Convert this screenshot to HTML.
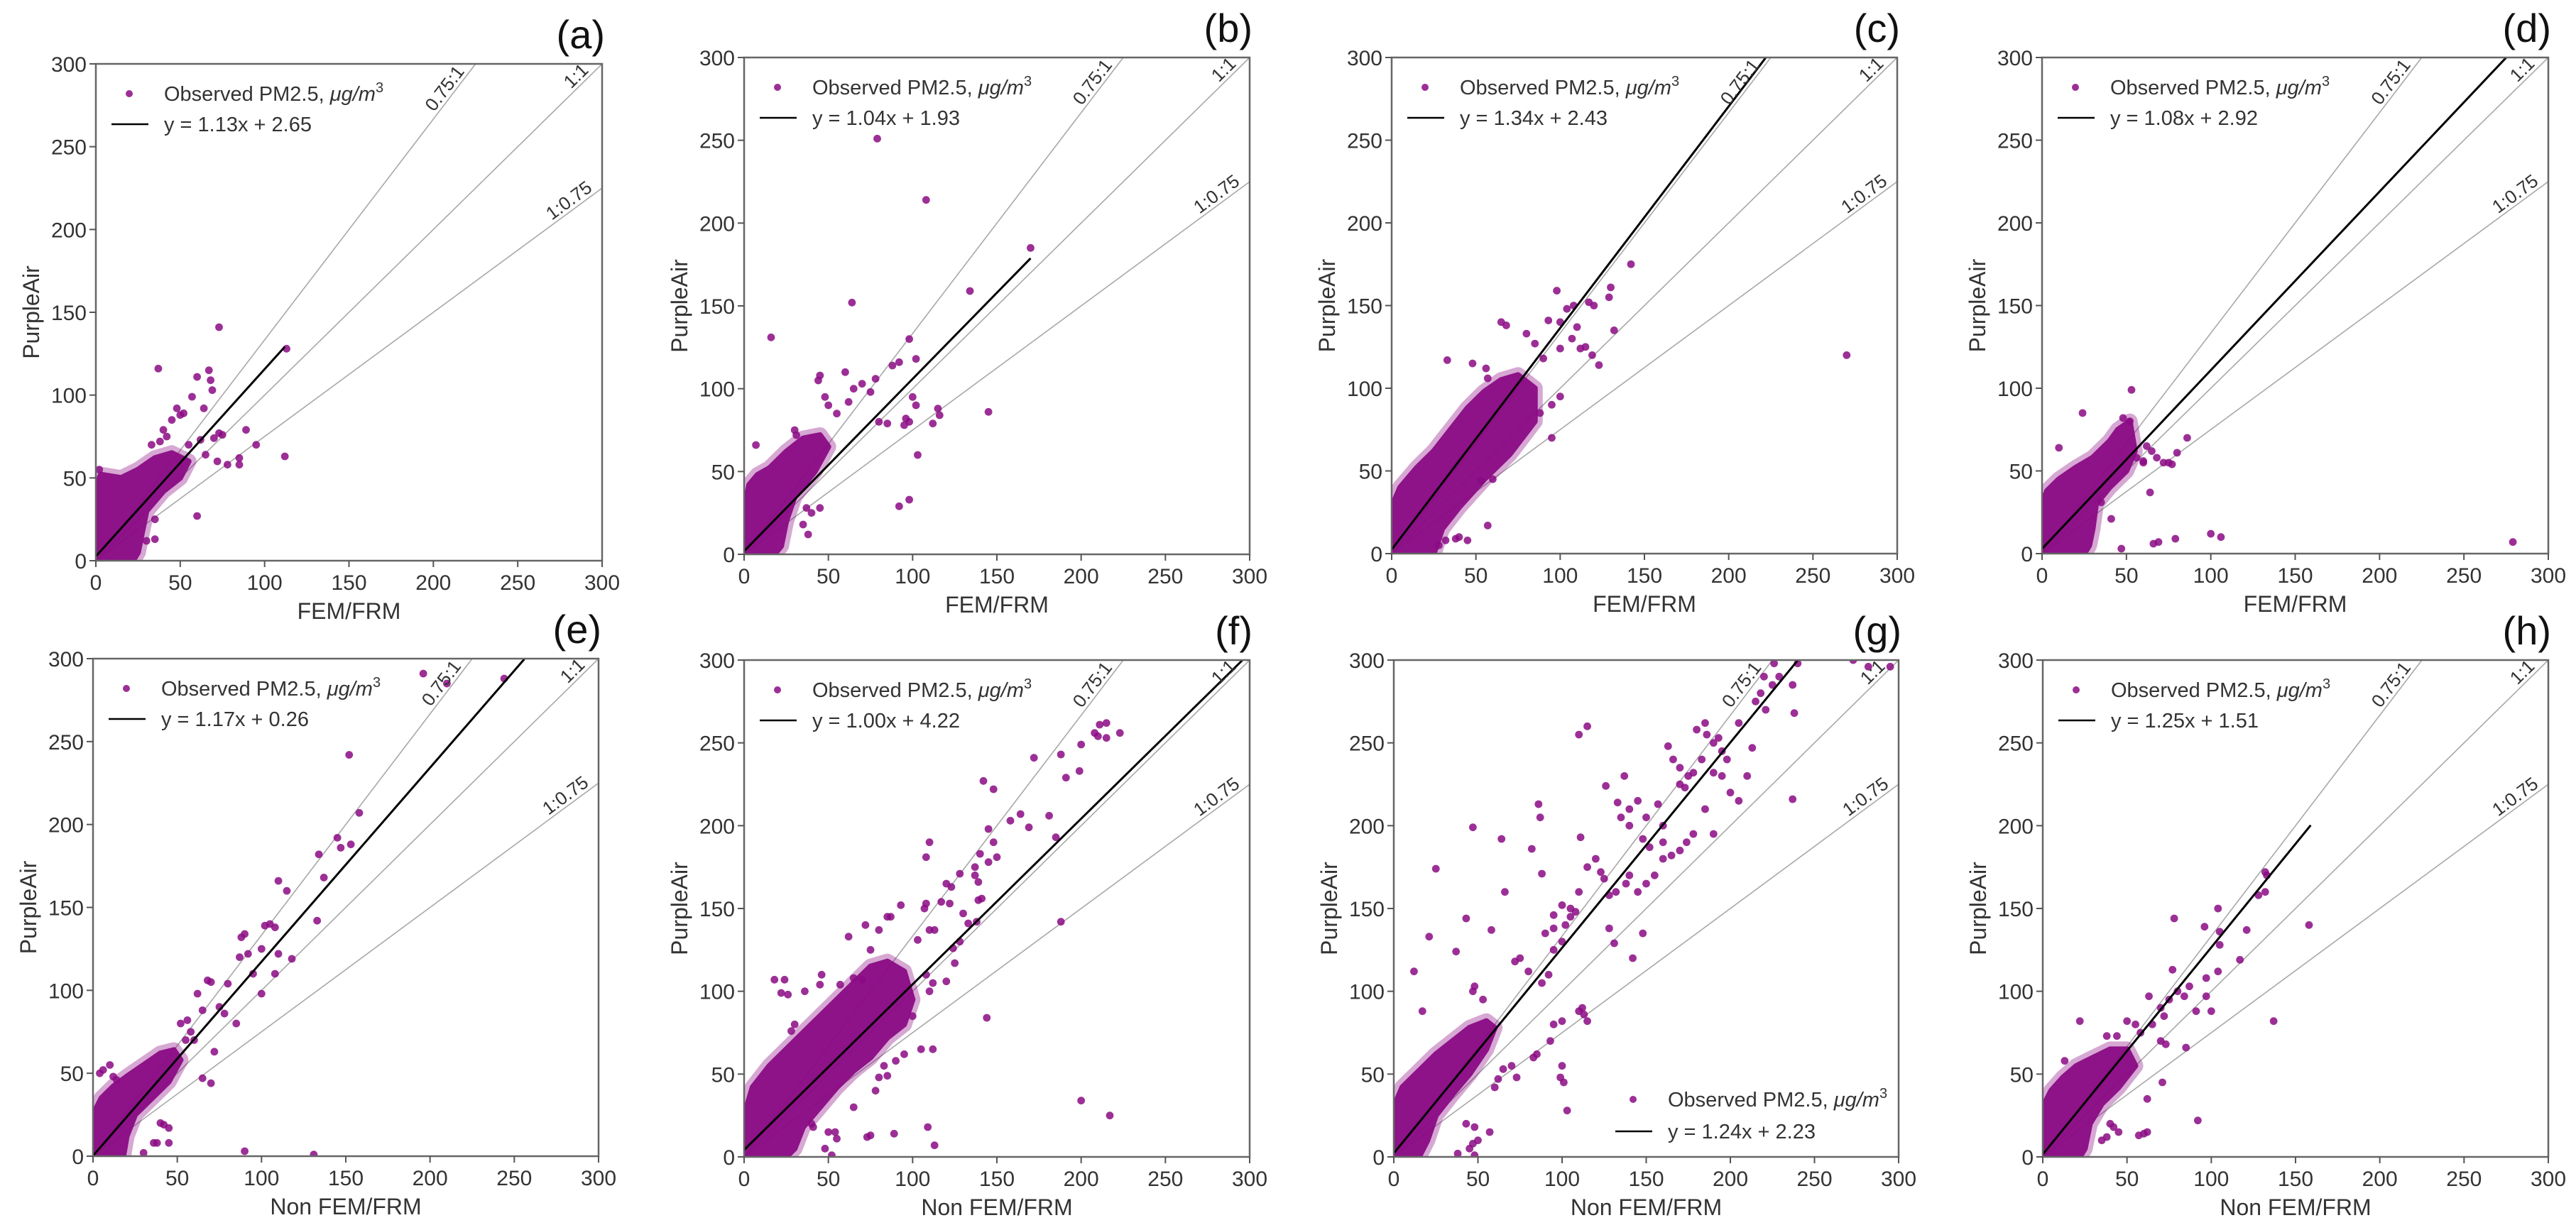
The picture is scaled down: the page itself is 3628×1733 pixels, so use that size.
<!DOCTYPE html>
<html><head><meta charset="utf-8"><style>
html,body{margin:0;padding:0;background:#fff;}
svg text{font-family:"Liberation Sans",sans-serif;}
</style></head><body>
<svg id="fig" xmlns="http://www.w3.org/2000/svg" width="3628" height="1728" viewBox="0 0 3628 1728"></svg>
<script>
// ---------- data ----------
const panelLabels = ["(a)","(b)","(c)","(d)","(e)","(f)","(g)","(h)"];
const xTitles = ["FEM/FRM","FEM/FRM","FEM/FRM","FEM/FRM","Non FEM/FRM","Non FEM/FRM","Non FEM/FRM","Non FEM/FRM"];
const yTitle = "PurpleAir";
const tickValues = [0,50,100,150,200,250,300];
const fitSlopes = [1.13,1.04,1.34,1.08,1.17,1.00,1.24,1.25];
const fitIntercepts = [2.65,1.93,2.43,2.92,0.26,4.22,2.23,1.51];
const fitXmax = [112,170,222,275,256,296,240,159];
const refRatios = [1/0.75, 1, 0.75];
const refNames = ["0.75:1","1:1","1:0.75"];
const legendCorner = ["tl","tl","tl","tl","tl","tl","br","tl"];

const hullA = [[0,0],[0,45],[3,52],[15,50],[25,55],[35,62],[45,65],[55,60],[50,50],[40,42],[30,30],[27,15],[25,5],[22,0]];
const pointsA = [[73,141],[37,116],[60,111],[67,115],[68,109],[69,103],[57,99],[64,92],[48,92],[50,88],[52,89],[89,79],[95,70],[112,63],[113,128],[60,27],[78,58],[85,58],[85,62],[73,77],[75,76],[70,74],[62,73],[35,25],[35,13],[30,12],[40,79],[38,72],[33,70],[45,85],[42,75],[55,70],[65,64],[72,60],[2,55]];
const hullB = [[0,0],[0,28],[3,42],[8,48],[15,52],[25,62],[35,70],[45,72],[50,65],[42,50],[30,35],[25,20],[22,5],[18,0]];
const pointsB = [[79,251],[108,214],[170,185],[64,152],[16,131],[98,130],[134,159],[145,86],[115,88],[116,84],[112,79],[102,118],[92,116],[88,114],[100,95],[102,90],[98,80],[96,82],[95,78],[92,29],[98,33],[103,60],[60,110],[45,108],[44,105],[48,95],[50,90],[55,85],[62,92],[65,100],[70,103],[75,98],[80,80],[85,79],[78,106],[30,75],[31,72],[40,25],[45,28],[37,28],[7,66],[38,12],[35,18]];
const hullC = [[0,0],[0,28],[5,40],[15,52],[25,62],[35,75],[45,88],[55,98],[65,105],[75,108],[85,100],[85,80],[70,60],[55,45],[40,28],[30,15],[25,0]];
const pointsC = [[142,175],[98,159],[130,161],[129,155],[120,150],[117,152],[104,148],[108,150],[65,140],[68,138],[93,141],[100,140],[110,137],[112,124],[115,125],[119,120],[123,114],[132,135],[100,95],[95,90],[107,130],[100,124],[33,117],[48,115],[56,112],[57,106],[95,70],[57,17],[53,44],[60,45],[270,120],[38,9],[40,10],[45,8],[28,5],[32,8],[88,85],[90,118],[85,127],[80,133]];
const hullD = [[0,0],[0,30],[3,38],[10,45],[20,52],[30,58],[40,68],[45,75],[52,80],[55,62],[50,50],[40,40],[32,30],[30,15],[28,5],[25,0]];
const pointsD = [[53,99],[24,85],[10,64],[48,82],[52,80],[86,70],[80,61],[75,55],[72,55],[68,58],[65,62],[62,65],[60,55],[56,58],[64,37],[41,21],[35,31],[66,6],[69,7],[79,9],[100,12],[106,10],[279,7],[47,3],[60,56],[77,54]];
const hullE = [[0,0],[0,25],[5,35],[12,42],[20,48],[30,55],[40,62],[48,64],[52,58],[45,45],[35,35],[25,25],[20,12],[18,0]];
const pointsE = [[196,291],[210,285],[244,288],[152,242],[158,207],[145,192],[147,186],[153,188],[134,182],[137,168],[110,166],[115,160],[133,142],[105,140],[108,138],[102,139],[90,134],[88,132],[92,122],[87,120],[110,122],[118,119],[100,98],[108,110],[95,110],[68,106],[70,105],[62,98],[65,88],[75,90],[78,86],[85,80],[72,63],[70,44],[65,47],[60,70],[90,3],[131,1],[40,20],[42,19],[45,17],[36,8],[38,8],[45,8],[30,2],[4,50],[6,52],[10,55],[12,48],[14,46],[56,82],[52,80],[58,75],[55,70],[80,104],[100,125]];
const hullF = [[0,0],[0,25],[5,42],[15,55],[25,65],[35,75],[45,85],[55,95],[65,105],[75,115],[85,118],[95,112],[100,95],[95,80],[85,72],[75,60],[65,52],[55,42],[45,30],[35,18],[30,5],[25,0]];
const pointsF = [[215,262],[211,261],[208,256],[210,254],[215,253],[223,256],[172,241],[188,243],[200,249],[191,229],[199,233],[142,227],[148,222],[164,207],[158,203],[169,199],[181,206],[185,193],[145,198],[148,190],[110,190],[108,181],[140,183],[137,175],[145,178],[150,181],[137,170],[139,166],[128,171],[120,165],[123,163],[117,154],[122,153],[130,147],[138,142],[141,156],[139,155],[133,141],[128,130],[124,126],[125,117],[120,106],[107,150],[108,153],[93,152],[85,145],[87,145],[80,137],[72,140],[62,133],[75,125],[103,131],[110,137],[113,137],[144,84],[188,142],[200,34],[217,25],[109,18],[113,7],[89,14],[75,13],[73,12],[65,30],[55,11],[54,15],[50,15],[40,20],[41,18],[48,5],[52,1],[18,107],[24,107],[22,99],[26,98],[46,110],[45,104],[57,104],[65,108],[70,107],[100,85],[110,100],[108,110],[112,105],[30,80],[28,76],[36,100],[112,65],[105,65],[95,62],[90,58],[83,55],[80,48],[85,49],[78,40]];
const hullG = [[0,0],[0,30],[5,42],[15,52],[25,62],[35,70],[45,78],[55,82],[60,78],[55,65],[45,50],[35,38],[25,25],[20,10],[15,0]];
const pointsG = [[47,199],[25,174],[21,133],[12,112],[17,88],[43,144],[37,124],[47,100],[48,103],[53,95],[58,137],[64,192],[66,160],[82,186],[86,213],[87,205],[88,171],[95,146],[100,152],[102,140],[105,150],[108,148],[111,193],[110,255],[115,260],[126,224],[137,230],[133,214],[135,205],[140,210],[140,200],[145,215],[150,205],[157,213],[148,192],[152,187],[160,190],[165,182],[163,248],[166,240],[170,235],[175,230],[170,225],[173,223],[180,258],[185,262],[186,255],[193,253],[195,245],[198,240],[190,232],[195,230],[200,220],[205,215],[210,230],[213,247],[220,290],[226,298],[237,285],[238,268],[237,216],[221,270],[229,290],[240,298],[273,300],[282,296],[295,296],[185,210],[178,195],[174,190],[170,185],[190,195],[138,165],[132,160],[128,158],[125,168],[120,180],[123,172],[115,175],[110,160],[105,145],[100,130],[95,125],[92,110],[88,105],[80,112],[75,120],[72,118],[90,135],[95,138],[142,120],[148,135],[131,129],[128,138],[112,90],[110,88],[113,86],[115,82],[100,82],[95,80],[93,70],[85,62],[83,60],[70,55],[73,48],[65,53],[62,47],[60,42],[100,55],[99,48],[101,45],[103,28],[57,15],[48,18],[43,20],[47,8],[45,5],[50,10],[38,2],[48,1],[140,170],[145,160],[150,165],[155,170],[160,180],[160,200],[178,232],[183,240],[190,250],[205,262],[215,275],[218,280],[225,285]];
const hullH = [[0,0],[0,30],[5,40],[12,48],[20,55],[30,60],[40,65],[50,65],[55,55],[45,42],[35,32],[28,20],[25,5],[22,0]];
const pointsH = [[132,172],[133,170],[128,158],[132,160],[104,150],[96,139],[78,144],[121,137],[105,136],[158,140],[105,128],[117,119],[77,113],[97,108],[104,112],[87,103],[84,97],[100,88],[91,88],[137,82],[97,97],[63,97],[85,66],[71,45],[62,35],[92,22],[60,14],[57,13],[62,15],[22,82],[13,58],[55,80],[58,75],[65,80],[70,90],[72,85],[75,95],[80,100],[70,70],[73,68],[40,20],[42,18],[45,15],[38,12],[35,10],[44,73],[38,73],[50,82]];

const hulls = [hullA,hullB,hullC,hullD,hullE,hullF,hullG,hullH];
const points = [pointsA,pointsB,pointsC,pointsD,pointsE,pointsF,pointsG,pointsH];

// ---------- layout (pixel boxes, not data) ----------
const panelBoxes = [
  {x0:135,x1:848,yTop:90,yBot:790},
  {x0:1048,x1:1760,yTop:81,yBot:781},
  {x0:1960,x1:2672,yTop:81,yBot:780},
  {x0:2876,x1:3589,yTop:81,yBot:780},
  {x0:131,x1:843,yTop:928,yBot:1629},
  {x0:1048,x1:1760,yTop:930,yBot:1630},
  {x0:1963,x1:2674,yTop:930,yBot:1630},
  {x0:2877,x1:3589,yTop:930,yBot:1630}
];
const VMAX = 300;
const NS = "http://www.w3.org/2000/svg";
const svg = document.getElementById('fig');
const PURPLE = "#8b0a84";

function mk(tag, attrs, parent){
  const e = document.createElementNS(NS, tag);
  for (const k in attrs) e.setAttribute(k, attrs[k]);
  parent.appendChild(e);
  return e;
}

panelBoxes.forEach((b, i) => {
  const sx = v => b.x0 + v / VMAX * (b.x1 - b.x0);
  const sy = v => b.yBot - v / VMAX * (b.yBot - b.yTop);
  const g = mk('g', {}, svg);
  
  

  const clipId = 'clip' + i;
  const cp = mk('clipPath', {id: clipId}, g);
  mk('rect', {x:b.x0, y:b.yTop, width:b.x1-b.x0, height:b.yBot-b.yTop}, cp);
  const plot = mk('g', {'clip-path':'url(#'+clipId+')'}, g);
  
  

  refRatios.forEach((r, k) => {
    const xe = Math.min(VMAX, VMAX / r);
    const ln = mk('line', {x1:sx(0), y1:sy(0), x2:sx(xe), y2:sy(xe*r), stroke:'#a8a8a8', 'stroke-width':1.6}, plot);
    
    
  });

  const pts = hulls[i].map(p => sx(p[0]) + ',' + sy(p[1])).join(' ');
  const halo = mk('polygon', {points:pts, fill:PURPLE, stroke:PURPLE, 'stroke-width':22, 'stroke-linejoin':'round', opacity:0.35}, plot);
  
  
  const poly = mk('polygon', {points:pts, fill:PURPLE, stroke:PURPLE, 'stroke-width':8, 'stroke-linejoin':'round', opacity:0.95}, plot);
  
  

  points[i].forEach(p => {
    const c = mk('circle', {cx:sx(p[0]), cy:sy(p[1]), r:5.4, fill:PURPLE, opacity:0.85}, plot);
    
    
  });

  const m = fitSlopes[i], c0 = fitIntercepts[i], xm = fitXmax[i];
  const fl = mk('line', {x1:sx(0), y1:sy(c0), x2:sx(xm), y2:sy(m*xm+c0), stroke:'#000', 'stroke-width':3}, plot);
  
  

  refRatios.forEach((r, k) => {
    const xe = r > 1 ? (VMAX - 6) / r : (r === 1 ? VMAX - 6 : VMAX - 4);
    const px = sx(xe), py = sy(xe * r);
    const ang = -Math.atan(r * (b.yBot - b.yTop) / (b.x1 - b.x0)) * 180 / Math.PI;
    const t = mk('text', {x:px, y:py - 5, 'font-size':26, fill:'#333', 'text-anchor':'end', transform:'rotate('+ang+' '+px+' '+py+')'}, g);
    t.textContent = refNames[k];
    
    
  });

  const fr = mk('rect', {x:b.x0, y:b.yTop, width:b.x1-b.x0, height:b.yBot-b.yTop, fill:'none', stroke:'#666', 'stroke-width':2.5}, g);
  
  

  tickValues.forEach(v => {
    mk('line', {x1:sx(v), y1:b.yBot, x2:sx(v), y2:b.yBot+9, stroke:'#555', 'stroke-width':2}, g);
    mk('line', {x1:b.x0-9, y1:sy(v), x2:b.x0, y2:sy(v), stroke:'#555', 'stroke-width':2}, g);
    const tx = mk('text', {x:sx(v), y:b.yBot+41, 'font-size':30, fill:'#333', 'text-anchor':'middle'}, g);
    tx.textContent = v;
    
    
    const ty = mk('text', {x:b.x0-13, y:sy(v)+11, 'font-size':30, fill:'#333', 'text-anchor':'end'}, g);
    ty.textContent = v;
    
    
  });

  const xt = mk('text', {x:(b.x0+b.x1)/2, y:b.yBot+82, 'font-size':32, fill:'#333', 'text-anchor':'middle'}, g);
  xt.textContent = xTitles[i];
  
  
  const ycx = b.x0 - 80, ycy = (b.yTop + b.yBot) / 2;
  const yt = mk('text', {x:ycx, y:ycy, 'font-size':32, fill:'#333', 'text-anchor':'middle', transform:'rotate(-90 '+ycx+' '+ycy+')'}, g);
  yt.textContent = yTitle;
  
  

  const pl = mk('text', {x:b.x1+4, y:b.yTop-22, 'font-size':56, fill:'#111', 'text-anchor':'end'}, g);
  pl.textContent = panelLabels[i];
  
  

  let lx, ly1, ly2;
  if (legendCorner[i] === 'tl') { lx = b.x0; ly1 = b.yTop + 42; ly2 = b.yTop + 85; }
  else { lx = b.x0 + 290; ly1 = b.yBot - 81; ly2 = b.yBot - 36; }
  const lg = mk('g', {}, g);
  
  
  mk('circle', {cx:lx+47, cy:ly1, r:5, fill:PURPLE, opacity:0.85}, lg);
  const lt1 = mk('text', {x:lx+96, y:ly1+10, 'font-size':29, fill:'#333'}, lg);
  lt1.innerHTML = 'Observed PM2.5, <tspan font-style="italic">μg/m</tspan><tspan font-size="20" dy="-12">3</tspan>';
  
  
  mk('line', {x1:lx+22, y1:ly2, x2:lx+74, y2:ly2, stroke:'#000', 'stroke-width':2.5}, lg);
  const lt2 = mk('text', {x:lx+96, y:ly2+10, 'font-size':29, fill:'#333'}, lg);
  lt2.textContent = 'y = ' + fitSlopes[i].toFixed(2) + 'x + ' + fitIntercepts[i].toFixed(2);
  
  
});
</script>
</body></html>
